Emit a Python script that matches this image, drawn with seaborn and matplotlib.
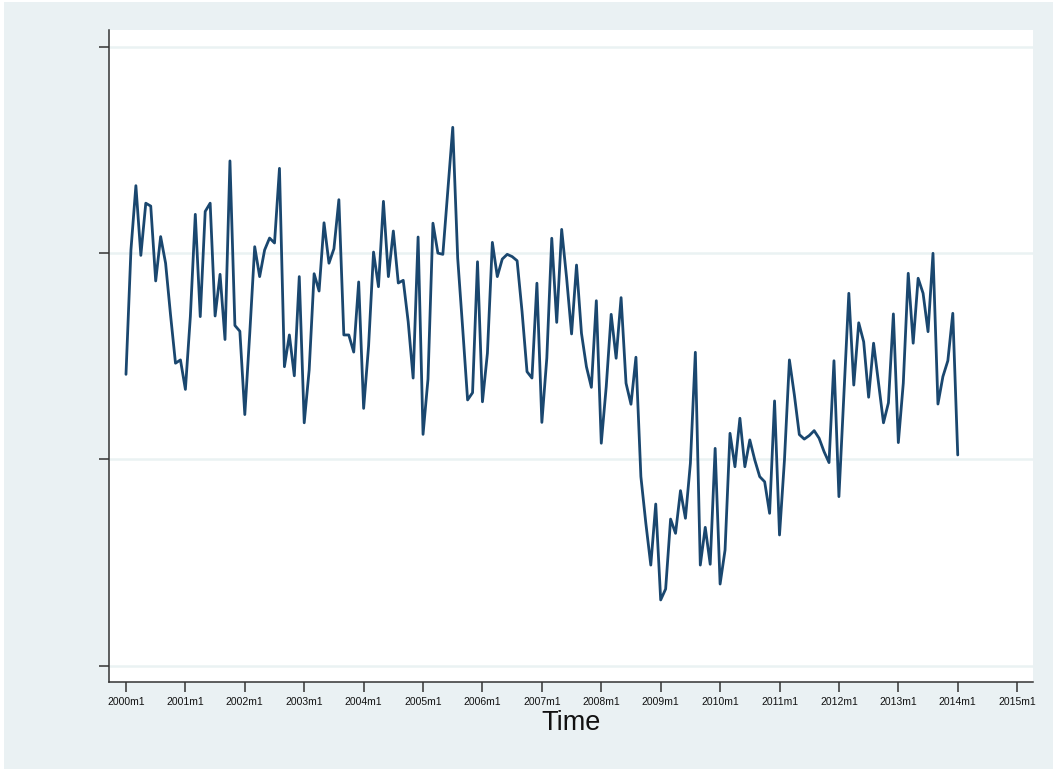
import numpy as np
import pandas as pd
import matplotlib
matplotlib.use("Agg")
import matplotlib.pyplot as plt
import seaborn as sns
from matplotlib.patches import Rectangle

# Monthly series, one list per calendar year (January .. December)
v2000 = [0.412, 1.015, 1.327, 0.989, 1.242, 1.228, 0.865, 1.080, 0.951, 0.700, 0.466, 0.482]
v2001 = [0.339, 0.692, 1.188, 0.692, 1.202, 1.242, 0.695, 0.897, 0.581, 1.447, 0.649, 0.621]
v2002 = [0.217, 0.611, 1.031, 0.886, 1.015, 1.073, 1.049, 1.411, 0.449, 0.603, 0.405, 0.886]
v2003 = [0.177, 0.433, 0.900, 0.816, 1.147, 0.951, 1.021, 1.259, 0.603, 0.603, 0.520, 0.860]
v2004 = [0.247, 0.549, 1.005, 0.837, 1.251, 0.886, 1.107, 0.855, 0.868, 0.667, 0.394, 1.078]
v2005 = [0.121, 0.389, 1.145, 1.000, 0.994, 1.301, 1.610, 0.975, 0.637, 0.288, 0.323, 0.958]
v2006 = [0.279, 0.514, 1.052, 0.886, 0.971, 0.994, 0.983, 0.963, 0.716, 0.425, 0.394, 0.854]
v2007 = [0.179, 0.491, 1.072, 0.664, 1.115, 0.879, 0.608, 0.942, 0.611, 0.449, 0.349, 0.769]
v2008 = [0.078, 0.352, 0.703, 0.490, 0.784, 0.369, 0.267, 0.495, -0.084, -0.310, -0.513, -0.217]
v2009 = [-0.682, -0.629, -0.290, -0.359, -0.152, -0.286, -0.019, 0.519, -0.513, -0.330, -0.509, 0.053]
v2010 = [-0.605, -0.440, 0.126, -0.036, 0.199, -0.036, 0.094, -0.003, -0.084, -0.109, -0.262, 0.283]
v2011 = [-0.367, -0.003, 0.482, 0.312, 0.120, 0.098, 0.115, 0.139, 0.102, 0.037, -0.016, 0.478]
v2012 = [-0.181, 0.312, 0.805, 0.360, 0.662, 0.570, 0.301, 0.563, 0.369, 0.177, 0.274, 0.705]
v2013 = [0.081, 0.369, 0.902, 0.563, 0.878, 0.805, 0.619, 0.999, 0.268, 0.401, 0.478, 0.708]
v2014 = [0.021]

series = (v2000 + v2001 + v2002 + v2003 + v2004 + v2005 + v2006 + v2007
          + v2008 + v2009 + v2010 + v2011 + v2012 + v2013 + v2014)

tick_years = list(range(2000, 2016))
tick_labels = [f"{y}m1" for y in tick_years]
y_ticks = [-1, 0, 1, 2]

df = pd.DataFrame({"t": np.arange(len(series)), "value": series})

sns.set_theme(style="white")
plt.rcParams["font.family"] = ["Liberation Sans", "DejaVu Sans"]

bg = "#EAF1F3"
fig = plt.figure(figsize=(10.53, 7.69), dpi=100, facecolor="white")
fig.patches.append(Rectangle((4 / 1053, 0), 1 - 4 / 1053, 1 - 2 / 769,
                             transform=fig.transFigure, facecolor=bg,
                             edgecolor="none", zorder=-10))
ax = fig.add_axes([109.3 / 1053, 87 / 769, 923.7 / 1053, 652 / 769])
ax.set_facecolor("white")

for yv in y_ticks:
    ax.axhline(yv, color="#EAF2F3", lw=1.8, zorder=0)

sns.lineplot(data=df, x="t", y="value", ax=ax, color="#1A476F", lw=2.0)

ax.set_xlim(-3.37, 183.2)
ax.set_ylim((459.3 - 682) / 206.2, (459.3 - 30) / 206.2)

ax.set_xticks([12 * (y - 2000) for y in tick_years])
ax.set_xticklabels(tick_labels, fontsize=7.5, color="#111111")
ax.set_yticks(y_ticks)
ax.set_yticklabels([])

ax.tick_params(axis="x", direction="out", length=7, width=1.1, color="#333333", pad=4)
ax.tick_params(axis="y", direction="out", length=7.5, width=1.1, color="#333333")
ax.tick_params(bottom=True, left=True)

for side in ["top", "right"]:
    ax.spines[side].set_visible(False)
for side in ["left", "bottom"]:
    ax.spines[side].set_color("#333333")
    ax.spines[side].set_linewidth(1.1)

ax.set_xlabel("Time", fontsize=19.5, color="#111111", labelpad=2)
ax.set_ylabel("")

fig.savefig("out.png", dpi=100, facecolor=fig.get_facecolor())
